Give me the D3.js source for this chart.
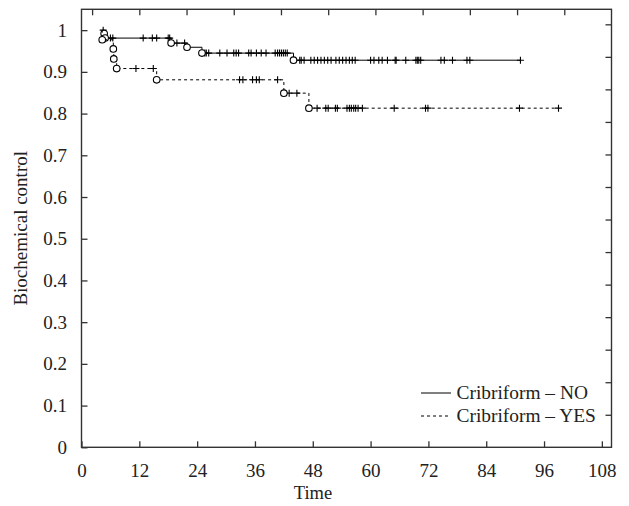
<!DOCTYPE html>
<html>
<head>
<meta charset="utf-8">
<script src="https://cdn.jsdelivr.net/npm/d3@7"></script>
<style>
  body { margin: 0; background: #fff; }
  svg text { font-family: "Liberation Serif", "Times New Roman", serif; fill: #222; }
</style>
</head>
<body>
<div id="chart"></div>
<script>
// Kaplan-Meier steps: [time, survival] (value after each event); first entry = start of curve
const noEvents = [[4.4, 1], [4.7, 0.992], [4.9, 0.981], [18.6, 0.969], [21.9, 0.959], [25.0, 0.945], [44.0, 0.928]];
const noEnd = 91.2;
const noCensored = [4.5, 6.0, 6.5, 12.8, 14.7, 15.6, 18.0, 18.3, 19.8, 21.4,
    25.6, 25.9, 26.4, 28.7, 30.2, 31.6, 32.1, 32.6, 34.7, 35.2, 36.3, 37.3, 38.3,
    40.2, 40.7, 41.1, 41.5, 41.9, 42.3, 42.7,
    45.3, 45.6, 46.2, 47.6, 48.3, 49.0, 49.7, 50.4, 51.1, 51.8, 52.8, 53.5, 54.2,
    54.9, 55.6, 56.2, 56.8, 60.0, 60.7, 61.7, 62.4, 63.5, 65.1, 65.3, 67.3, 69.4,
    69.7, 70.0, 70.4, 74.6, 75.3, 77.0, 80.0, 80.6, 91.1];

const yesEvents = [[4.2, 1], [4.3, 0.977], [6.6, 0.955], [6.7, 0.931], [7.3, 0.908], [15.6, 0.881], [42.0, 0.849], [47.2, 0.813]];
const yesEnd = 99.0;
const yesCensored = [11.3, 14.9, 32.8, 33.5, 35.5, 36.3, 36.9, 40.7, 43.1, 44.7,
    48.9, 50.7, 51.2, 52.7, 53.1, 55.1, 55.6, 56.0, 56.5, 56.9, 57.4, 58.3,
    64.9, 71.4, 71.9, 90.9, 99.0];

const xTicks = [0, 12, 24, 36, 48, 60, 72, 84, 96, 108];
const yTicks = [0, 0.1, 0.2, 0.3, 0.4, 0.5, 0.6, 0.7, 0.8, 0.9, 1];
const topTicks = [2.2, 12.0, 21.8, 31.6, 41.4, 51.2, 61.0, 70.8, 80.6, 90.4, 100.2];
const rightTicks = [0.078, 0.156, 0.234, 0.312, 0.39, 0.468, 0.546, 0.624, 0.702, 0.78, 0.858, 0.936, 1.014];

const series = [
    { name: "Cribriform \u2013 NO", events: noEvents, end: noEnd, censored: noCensored, dash: null },
    { name: "Cribriform \u2013 YES", events: yesEvents, end: yesEnd, censored: yesCensored, dash: "3,3" }
];

const width = 629, height = 506;
const margin = { top: 9.3, right: 17.5, bottom: 58.7, left: 81.5 };

const svg = d3.select("#chart").append("svg")
    .attr("width", width)
    .attr("height", height);

const x = d3.scaleLinear().domain([0, 110]).range([margin.left, width - margin.right]);
const y = d3.scaleLinear().domain([0, 1.05]).range([height - margin.bottom, margin.top]);

const frameColor = "#333";

// step value at time t
function survAt(events, t) {
    let v = 1;
    for (const e of events) if (e[0] <= t) v = e[1];
    return v;
}

// axes
const gx = svg.append("g")
    .attr("transform", `translate(0,${y(0)})`)
    .call(d3.axisBottom(x).tickValues(xTicks).tickSize(-6).tickPadding(16).tickFormat(d3.format("d")));
const gy = svg.append("g")
    .attr("transform", `translate(${x(0)},0)`)
    .call(d3.axisLeft(y).tickValues(yTicks).tickSize(-6).tickPadding(14.5)
        .tickFormat(d => d === 0 || d === 1 ? d3.format("d")(d) : d3.format(".1f")(d)));
const gt = svg.append("g")
    .attr("transform", `translate(0,${y(1.05)})`)
    .call(d3.axisTop(x).tickValues(topTicks).tickSize(-6).tickFormat(""));
const gr = svg.append("g")
    .attr("transform", `translate(${x(110)},0)`)
    .call(d3.axisRight(y).tickValues(rightTicks).tickSize(-6).tickFormat(""));

[gx, gy, gt, gr].forEach(g => {
    g.select(".domain").remove();
    g.selectAll(".tick line").attr("stroke", frameColor).attr("stroke-width", 1.3);
    g.selectAll("text").attr("font-size", 19).attr("fill", "#222");
});

svg.append("rect")
    .attr("x", x(0)).attr("y", y(1.05))
    .attr("width", x(110) - x(0)).attr("height", y(0) - y(1.05))
    .attr("fill", "none").attr("stroke", frameColor).attr("stroke-width", 1.4);

// axis titles
svg.append("text")
    .attr("x", 313).attr("y", 499)
    .attr("text-anchor", "middle").attr("font-size", 18.5)
    .text("Time");
svg.append("text")
    .attr("transform", `translate(27,${(y(0) + y(1.05)) / 2}) rotate(-90)`)
    .attr("text-anchor", "middle").attr("font-size", 19)
    .text("Biochemical control");

// curves
const line = d3.line().x(d => x(d[0])).y(d => y(d[1])).curve(d3.curveStepAfter);

series.forEach(s => {
    const pts = s.events.concat([[s.end, s.events[s.events.length - 1][1]]]);
    const g = svg.append("g");
    g.append("path")
        .attr("d", line(pts))
        .attr("fill", "none")
        .attr("stroke", "#000")
        .attr("stroke-width", 1)
        .attr("stroke-dasharray", s.dash);

    // censor marks
    g.selectAll(".cens").data(s.censored).join("path")
        .attr("class", "cens")
        .attr("d", t => {
            const cx = x(t), cy = y(survAt(s.events, t));
            return `M${cx - 3.5},${cy}H${cx + 3.5}M${cx},${cy - 3.5}V${cy + 3.5}`;
        })
        .attr("stroke", "#000").attr("stroke-width", 1.1);

    // event circles
    g.selectAll(".ev").data(s.events.slice(1)).join("circle")
        .attr("class", "ev")
        .attr("cx", d => x(d[0])).attr("cy", d => y(d[1]))
        .attr("r", 3.3)
        .attr("fill", "#fff").attr("stroke", "#000").attr("stroke-width", 1.1);
});

// legend
const legend = svg.append("g");
series.forEach((s, i) => {
    const ly = 393 + i * 23;
    legend.append("line")
        .attr("x1", 421).attr("x2", 451).attr("y1", ly).attr("y2", ly)
        .attr("stroke", "#000").attr("stroke-width", 1)
        .attr("stroke-dasharray", s.dash);
    legend.append("text")
        .attr("x", 456.5).attr("y", ly).attr("dy", "0.33em")
        .attr("font-size", 19.4)
        .text(s.name);
});
</script>
</body>
</html>
